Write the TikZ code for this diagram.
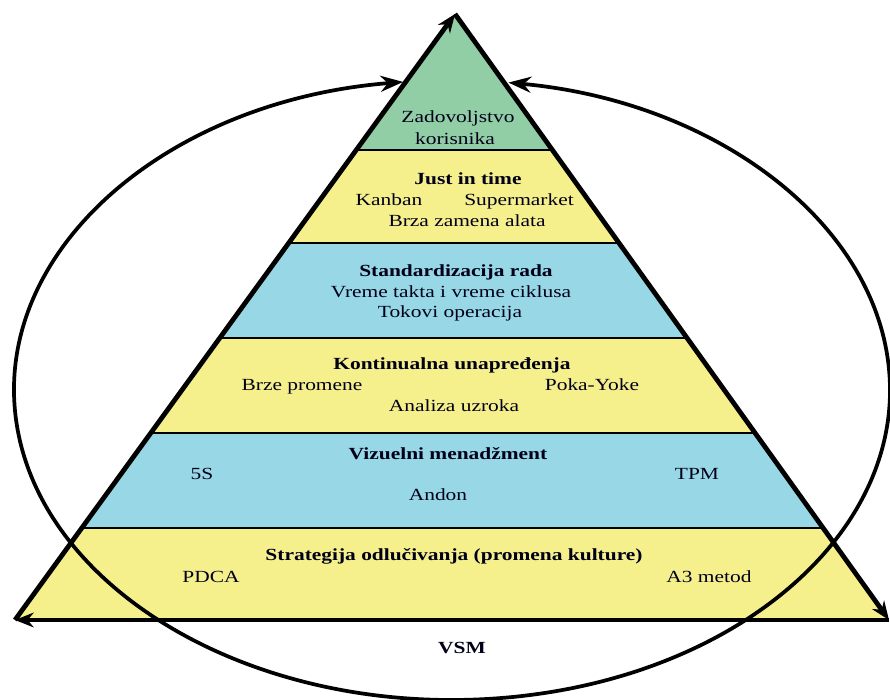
\documentclass[tikz,border=0pt]{standalone}
\usepackage{fontspec}
\setmainfont{Liberation Serif}[FakeStretch=1.26]
\usetikzlibrary{arrows.meta,calc}
\definecolor{topgreen}{RGB}{145,205,165}
\definecolor{bandyellow}{RGB}{246,240,140}
\definecolor{bandblue}{RGB}{152,215,230}
\tikzset{
  lbl/.style={font=\fontsize{12.75}{15}\selectfont, inner sep=0pt, anchor=base, text=black!90!blue},
  ttl/.style={lbl, font=\fontsize{12.75}{15}\selectfont\bfseries},
  edge/.style={line width=3.6pt, -{Stealth[length=14pt,width=11pt]}},
  loop/.style={line width=2.8pt, {Stealth[length=17pt,width=12pt]}-{Stealth[length=17pt,width=12pt]}},
  sep/.style={line width=1.9pt}
}
\begin{document}
\begin{tikzpicture}[x=0.75pt,y=0.75pt]
\useasboundingbox (0,0) rectangle (890,700);
\coordinate (apex) at (455,686);
\coordinate (bl) at (15,80);
\coordinate (br) at (889,80);
\coordinate (c) at (452,310);

% coloured bands, clipped to the pyramid
\begin{scope}
  \clip (apex) -- (bl) -- (br) -- cycle;
  \fill[topgreen]   (0,550) rectangle (890,700);
  \fill[bandyellow] (0,457) rectangle (890,550);
  \fill[bandblue]   (0,362) rectangle (890,457);
  \fill[bandyellow] (0,267) rectangle (890,362);
  \fill[bandblue]   (0,172) rectangle (890,267);
  \fill[bandyellow] (0,80)  rectangle (890,172);
  \foreach \yy in {550,457,362,267,172}
    \draw[sep] (0,\yy) -- (890,\yy);
\end{scope}

% the VSM cycle around the pyramid
\draw[loop] ($(c)+(96.4:438 and 310)$) arc[start angle=96.4, end angle=442.6, x radius=438, y radius=310];

% pyramid outline
\draw[edge] (bl) -- (apex);
\draw[edge] (apex) -- (br);
\draw[edge] (br) -- (bl);

% labels
\node[lbl] (z1) at (458,577) {Zadovoljstvo};
\node[lbl] (z2) at (455,555) {korisnika};

\node[ttl] (jit) at (468,515) {Just in time};
\node[lbl] (kan) at (389,494) {Kanban};
\node[lbl] (sup) at (519,494) {Supermarket};
\node[lbl] (brz) at (467,473) {Brza zamena alata};

\node[ttl] (std) at (456,423) {Standardizacija rada};
\node[lbl] (vrt) at (451,402) {Vreme takta i vreme ciklusa};
\node[lbl] (tok) at (450,382) {Tokovi operacija};

\node[ttl] (kon) at (452,330) {Kontinualna unapređenja};
\node[lbl] (bpr) at (302,309) {Brze promene};
\node[lbl] (pky) at (592,309) {Poka-Yoke};
\node[lbl] (anu) at (454,288) {Analiza uzroka};

\node[ttl] (viz) at (448,240) {Vizuelni menadžment};
\node[lbl] (fs)  at (202,220) {5S};
\node[lbl] (tpm) at (697,220) {TPM};
\node[lbl] (and) at (438,199) {Andon};

\node[ttl] (str) at (454,139) {Strategija odlučivanja (promena kulture)};
\node[lbl] (pdc) at (211,117) {PDCA};
\node[lbl] (a3)  at (709,117) {A3 metod};

\node[ttl] (vsm) at (462,46) {VSM};
\end{tikzpicture}
\end{document}
